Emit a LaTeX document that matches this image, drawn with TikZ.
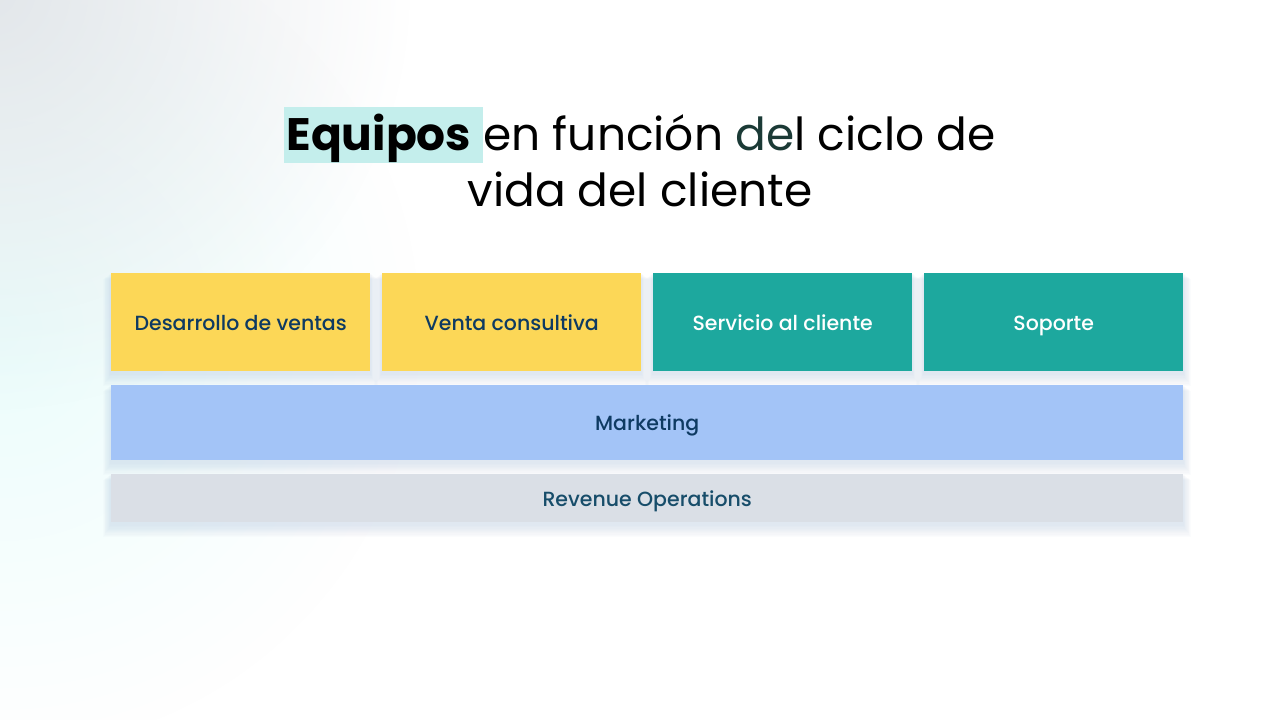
\documentclass[tikz,border=0pt]{standalone}
\usepackage{fontspec}
\setmainfont{Poppins}
\newfontfamily\labelfont{Poppins Medium}
\usetikzlibrary{fadings}
\definecolor{hl}{HTML}{C4EEEC}
\definecolor{delc}{HTML}{1B3A36}
\definecolor{yel}{HTML}{FCD757}
\definecolor{teal}{HTML}{1DA89E}
\definecolor{mkt}{HTML}{A3C4F7}
\definecolor{rev}{HTML}{DADFE6}
\definecolor{navy}{HTML}{0E3A62}
\definecolor{revtxt}{HTML}{174D6A}
\definecolor{shadowc}{HTML}{A9BFDC}
\definecolor{bgcyan}{HTML}{EBFDFC}
\definecolor{bggray}{HTML}{E0E4E8}
\tikzfading[name=radfade, inner color=transparent!0, outer color=transparent!100]
\newcommand\softshadow[4]{%
  \foreach \k in {1,...,10}{%
    \fill[shadowc, opacity=0.035] (#1-\k*0.8,#2+\k*0.6) rectangle (#3+\k*0.8,#4+3+\k*1.2);}}
\tikzset{
  x=1pt,y=-1pt,
  box/.style={draw=none, inner sep=0pt, anchor=north west, text height=18pt, text depth=2pt,
    font=\labelfont\fontsize{20.5}{24}\selectfont},
  sales/.style={box, fill=yel, text=navy, minimum width=259pt, minimum height=98pt},
  serv/.style={box, fill=teal, text=white, minimum width=259pt, minimum height=98pt},
  title/.style={font=\fontsize{45.5}{56}\selectfont, anchor=base, inner sep=0pt}
}
\begin{document}
\begin{tikzpicture}
\useasboundingbox (0,0) rectangle (1280,720);
\fill[white] (0,0) rectangle (1280,720);
\begin{scope}
\clip (0,0) rectangle (1280,720);
\fill[bgcyan, path fading=radfade] (0,330) circle (420);
\fill[bggray, path fading=radfade, opacity=0.9] (-10,-10) circle (420);
\end{scope}
\node[title] (t1) at (640,150) {{\setlength\fboxsep{0pt}\colorbox{hl}{\rule[-13pt]{0pt}{56pt}\kern2pt\textbf{Equipos}\ }}en función {\color{delc}de}l ciclo de};
\node[title] (t2) at (640,206) {vida del cliente};
\softshadow{111}{273}{370}{371}
\softshadow{382}{273}{641}{371}
\softshadow{653}{273}{912}{371}
\softshadow{924}{273}{1183}{371}
\softshadow{111}{385}{1183}{460}
\softshadow{111}{474}{1183}{522}
\node[sales] (a) at (111,273) {Desarrollo de ventas};
\node[sales] (b) at (382,273) {Venta consultiva};
\node[serv] (c) at (653,273) {Servicio al cliente};
\node[serv] (d) at (924,273) {Soporte};
\node[box, fill=mkt, text=navy, minimum width=1072pt, minimum height=75pt] (m) at (111,385) {Marketing};
\node[box, fill=rev, text=revtxt, minimum width=1072pt, minimum height=48pt] (r) at (111,474) {Revenue Operations};
\end{tikzpicture}
\end{document}
